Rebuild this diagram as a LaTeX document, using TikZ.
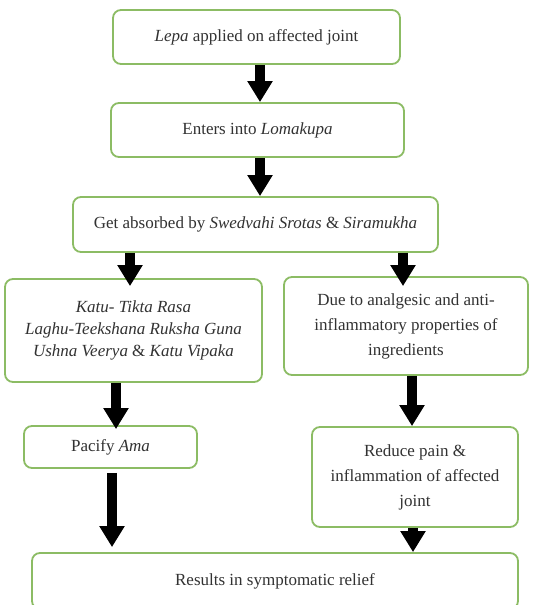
\documentclass[tikz,border=0pt]{standalone}
\usepackage{fontspec}
\setmainfont{Liberation Serif}
\usepackage{tikz}
\usetikzlibrary{arrows.meta,positioning}
\definecolor{boxgreen}{RGB}{140,188,100}
\definecolor{txtgray}{RGB}{50,50,50}
\tikzstyle{box} = [draw=boxgreen,line width=1.8pt,rounded corners=8pt,fill=white,text=txtgray,align=center,font=\fontsize{17}{25}\selectfont,inner sep=2pt]
\tikzstyle{arrow} = [line width=10.5pt,-{Triangle[width=24pt,length=21pt]}]

\begin{document}
\begin{tikzpicture}[x=1pt,y=-1pt]
      \useasboundingbox (0,0) rectangle (537,605);
      \begin{scope}
      \clip (0,0) rectangle (537,605);
      \node[box,minimum width=287,minimum height=54](lepa) at (256.5,37){\textit{Lepa} applied on affected joint};
      \node[box,minimum width=293,minimum height=54](enter) at (257.5,130){Enters into \textit{Lomakupa}};
      \node[box,minimum width=365,minimum height=55](absorb) at (255.5,224.5){Get absorbed by \textit{Swedvahi Srotas} \& \textit{Siramukha}};
      \node[box,minimum width=257,minimum height=103,font=\fontsize{17}{22}\selectfont](guna) at (133.5,330.5){\textit{Katu- Tikta Rasa}\\\textit{Laghu-Teekshana Ruksha Guna}\\\textit{Ushna Veerya} \& \textit{Katu Vipaka}};
      \node[box,minimum width=244,minimum height=98](prop) at (406,326){Due to analgesic and anti-\\inflammatory properties of\\ingredients};
      \node[box,minimum width=173,minimum height=42](ama) at (110.5,447){Pacify \textit{Ama}};
      \node[box,minimum width=206,minimum height=100](pain) at (415,477){Reduce pain \&\\inflammation of affected\\joint};
      \node[box,minimum width=486,minimum height=56,yshift=1pt](relief) at (275,582){Results in symptomatic relief};
      \end{scope}
      \draw[arrow](lepa.south -| 260,0)--(enter.north -| 260,0);
      \draw[arrow](enter.south -| 260,0)--(absorb.north -| 260,0);
      \draw[arrow](absorb.south -| 130,0)--([yshift=-8pt]guna.north -| 130,0);
      \draw[arrow](absorb.south -| 403,0)--([yshift=-10pt]prop.north -| 403,0);
      \draw[arrow](guna.south -| 116,0)--([yshift=-4pt]ama.north -| 116,0);
      \draw[arrow](prop.south -| 412,0)--(pain.north -| 412,0);
      \draw[arrow]([yshift=-4pt]ama.south -| 112,0)--([yshift=5pt]relief.north -| 112,0);
      \draw[arrow](pain.south -| 413,0)--(relief.north -| 413,0);
    \end{tikzpicture}
\end{document}
